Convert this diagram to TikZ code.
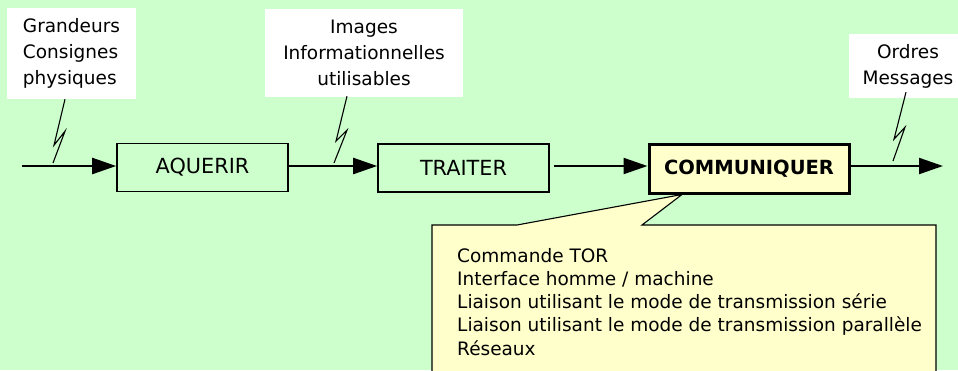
\documentclass[tikz,border=0pt]{standalone}
\usepackage{fontspec}
\setmainfont{DejaVu Sans}
\usetikzlibrary{arrows.meta}
\definecolor{bggreen}{HTML}{CCFFCC}
\definecolor{noteyellow}{HTML}{FFFFCC}
\pgfdeclarelayer{bg}
\pgfsetlayers{bg,main}
\begin{document}
\begin{tikzpicture}[x=1pt,y=-1pt,
  lbl/.style={fill=white, inner sep=0pt, align=center, font=\fontsize{18.5}{26}\selectfont},
  proc/.style={draw, line width=1.6pt, fill=bggreen, minimum width=171pt, minimum height=48pt, inner sep=0pt, font=\fontsize{20.8}{24}\selectfont},
  flow/.style={line width=2.2pt, -{Triangle[length=24pt,width=16pt]}},
  zig/.style={line width=1.1pt},
  note/.style={line width=1.1pt, fill=noteyellow},
]
\useasboundingbox (0,0) rectangle (958,370);
\clip (0,0) rectangle (958,370);

\node[proc] (acq) at (202.5,167.5) {AQUERIR};
\node[proc] (trt) at (463.5,168) {TRAITER};
\node[proc, fill=noteyellow, line width=3pt, minimum width=200pt, minimum height=49pt, font=\fontsize{19.5}{24}\selectfont] (com) at (749,168.5) {\textbf{COMMUNIQUER}};

\coordinate (in) at (22,166);
\coordinate (out) at (943,166);
\draw[flow] (in) -- (in -| acq.west);
\draw[flow] (acq.east |- in) -- (in -| trt.west);
\draw[flow] ([xshift=4pt]trt.east |- in) -- (in -| com.west);
\draw[flow] (com.east |- in) -- (out);

\node[lbl, minimum width=129pt, minimum height=91pt, align=left] (l1) at (71.5,53.5) {Grandeurs\\Consignes\\physiques};
\node[lbl, minimum width=198pt, minimum height=88pt] (l2) at (364,53) {Images\\Informationnelles\\utilisables};
\node[lbl, minimum width=118pt, minimum height=64pt] (l3) at (908,66) {Ordres\\Messages};

\coordinate (z1) at (53,163);
\coordinate (z2) at (334,163);
\coordinate (z3) at (893,161);
\draw[zig] ([xshift=-6.5pt]l1.south) -- ++(-11,46) -- ++(11,-14) -- (z1);
\draw[zig] ([xshift=-17pt,yshift=1pt]l2.south) -- ++(-11,45) -- ++(11,-11) -- (z2);
\draw[zig] ([xshift=-2pt,yshift=6pt]l3.south) -- ++(-12,47) -- ++(11,-12) -- (z3);

\begin{pgfonlayer}{bg}
\fill[bggreen] (0,0) rectangle (958,370);
\draw[note] (432,225) -- (517,225) -- ([xshift=-67pt]com.south) -- (642,225) -- (936,225) -- (936,380) -- (432,380) -- cycle;
\end{pgfonlayer}
\node[anchor=north west, inner sep=0pt, align=left, font=\fontsize{18.5}{23.2}\selectfont] (notes) at (457,248) {Commande TOR\\Interface homme / machine\\Liaison utilisant le mode de transmission série\\Liaison utilisant le mode de transmission parallèle\\Réseaux};
\end{tikzpicture}
\end{document}
